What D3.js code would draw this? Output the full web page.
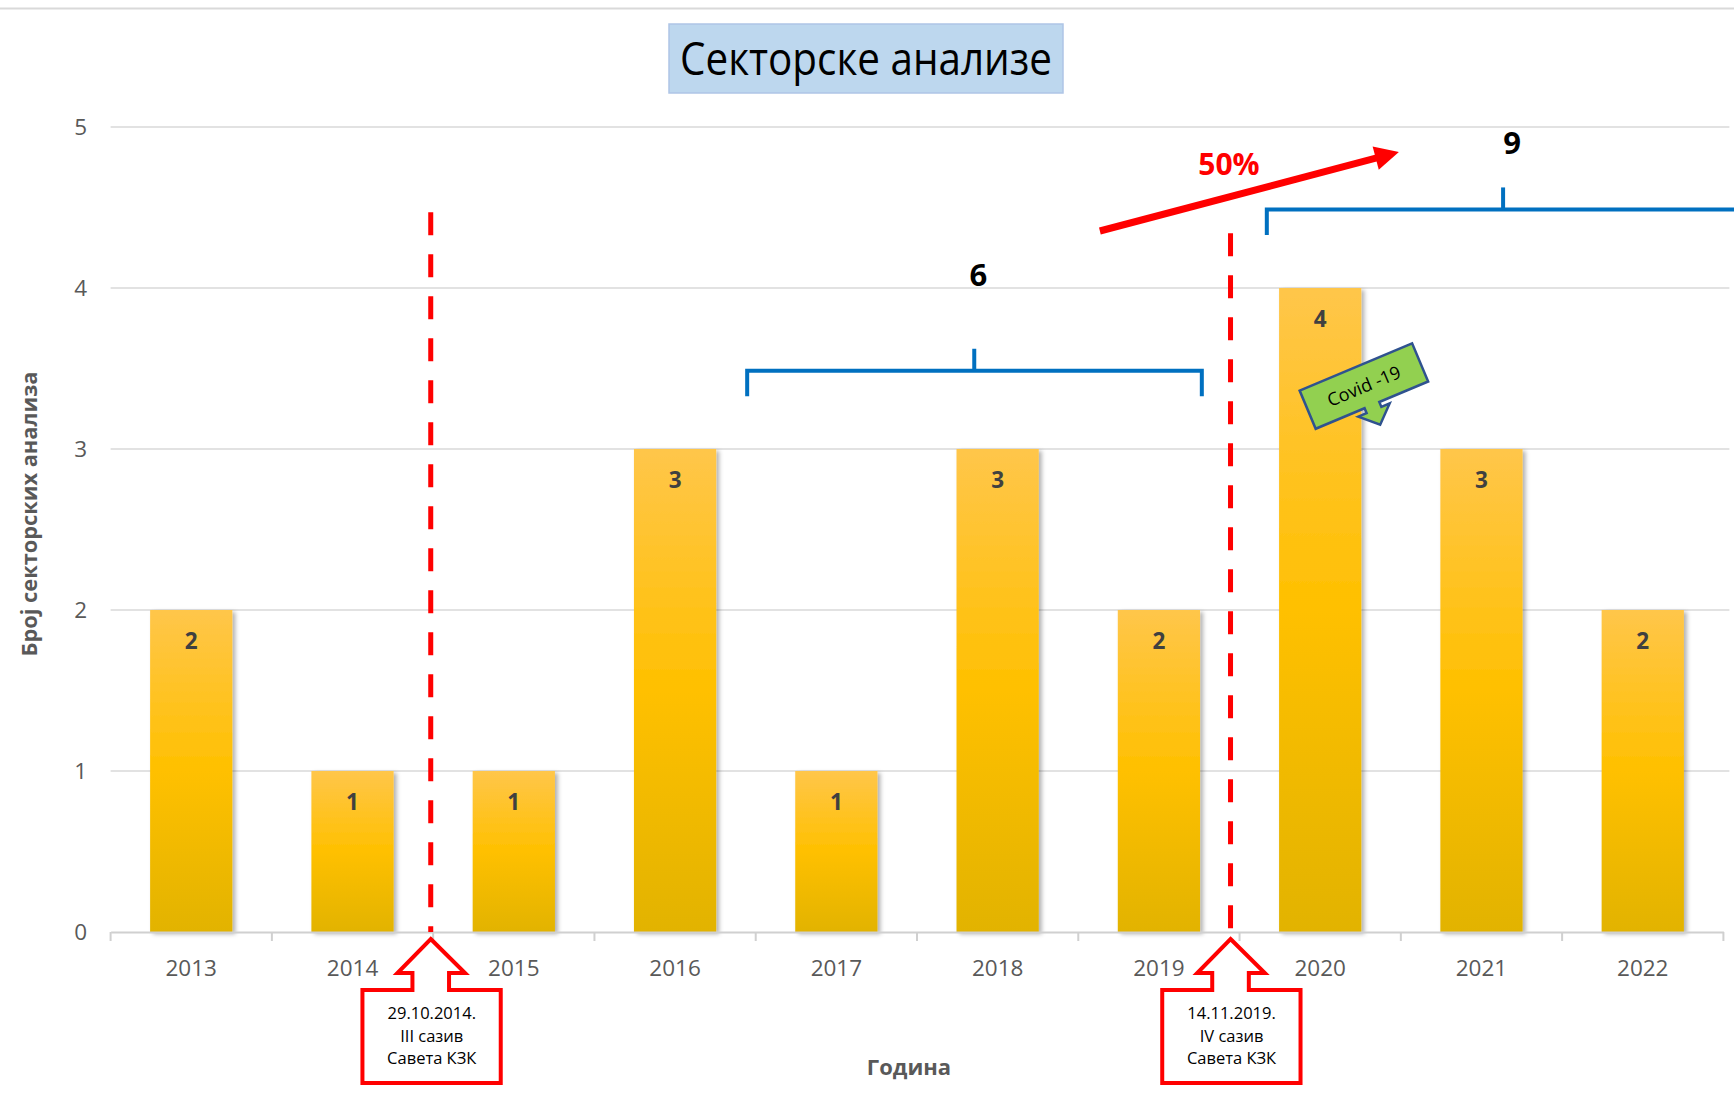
<!DOCTYPE html>
<html>
<head>
<meta charset="utf-8">
<script src="https://cdn.jsdelivr.net/npm/d3@7"></script>
<style>
  html, body { margin: 0; padding: 0; background: #fff; }
  svg { display: block; }
</style>
</head>
<body>
<svg id="chart" width="1734" height="1115"></svg>
<script>
// ---------------- data ----------------
const years = ["2013","2014","2015","2016","2017","2018","2019","2020","2021","2022"];
const values = [2, 1, 1, 3, 1, 3, 2, 4, 3, 2];
const yTicks = [0, 1, 2, 3, 4, 5];
const titleText = "Секторске анализе";
const yTitle = "Број секторских анализа";
const xTitle = "Година";
// events (position as category index, top of dashed line in data units)
const eventPos = [1.485, 6.444];
const eventTop = [4.47, 4.34];
const eventLines = [
  ["29.10.2014.", "III сазив", "Савета КЗК"],
  ["14.11.2019.", "IV сазив", "Савета КЗК"]
];
// period brackets (category index from, mid, to; level in data units) and totals
const bracketFrom = [3.447, 6.669];
const bracketMid  = [4.855, 8.134];
const bracketTo   = [6.266, 10.6];
const bracketLevel = [3.486, 4.488];
const bracketTotals = ["6", "9"];
const totalPos = [4.88, 8.19];
const totalLevel = [4.01, 4.835];
// growth arrow
const growthFrom = [5.634, 4.354];
const growthTo = [7.488, 4.845];
const growthLabel = "50%";
const growthLabelPos = [6.434, 4.70];
// covid note
const covidText = "Covid -19";
const covidPos = [7.271, 3.391];

// ---------------- layout ----------------
const W = 1734, H = 1115;
const x0 = 110.6, x1 = 1723.4;
const yBottom = 932, yTop = 127;
const svg = d3.select("#chart");
const font = "'Open Sans', 'Noto Sans', 'DejaVu Sans', sans-serif";

const x = d3.scaleBand().domain(years).range([x0, x1]).paddingInner(0.49).paddingOuter(0.245);
const xi = d3.scaleLinear().domain([-0.5, 9.5]).range([x0, x1]); // continuous category index
const y = d3.scaleLinear().domain([0, 5]).range([yBottom, yTop]);

svg.append("rect").attr("width", W).attr("height", H).attr("fill", "#fff");
// frame top line
svg.append("line").attr("x1", 0).attr("x2", W).attr("y1", 8.5).attr("y2", 8.5)
  .attr("stroke", "#D9D9D9").attr("stroke-width", 2);

const defs = svg.append("defs");
const grad = defs.append("linearGradient").attr("id", "barGrad")
  .attr("x1", 0).attr("y1", 0).attr("x2", 0).attr("y2", 1);
grad.append("stop").attr("offset", "0%").attr("stop-color", "#FFC64A");
grad.append("stop").attr("offset", "50%").attr("stop-color", "#FFC000");
grad.append("stop").attr("offset", "100%").attr("stop-color", "#E2B300");
const filt = defs.append("filter").attr("id", "shadow").attr("x", "-20%").attr("y", "-10%")
  .attr("width", "150%").attr("height", "130%");
filt.append("feDropShadow").attr("dx", 3).attr("dy", 2).attr("stdDeviation", 2.2)
  .attr("flood-color", "#000").attr("flood-opacity", 0.3);

// gridlines
svg.append("g").selectAll("line").data(yTicks.filter(d => d > 0)).join("line")
  .attr("x1", x0).attr("x2", x1 + 6)
  .attr("y1", d => y(d)).attr("y2", d => y(d))
  .attr("stroke", "#D9D9D9").attr("stroke-width", 1.6);

// y tick labels
svg.append("g").selectAll("text").data(yTicks).join("text")
  .attr("x", 87).attr("y", d => y(d) + 8)
  .attr("text-anchor", "end")
  .attr("font-family", font).attr("font-size", 22.5).attr("fill", "#595959")
  .text(d => d);

// bars
svg.append("g").selectAll("rect").data(values).join("rect")
  .attr("x", (d, i) => x(years[i]))
  .attr("y", d => y(d))
  .attr("width", x.bandwidth())
  .attr("height", d => yBottom - y(d))
  .attr("fill", "url(#barGrad)")
  .attr("filter", "url(#shadow)");

// data labels
svg.append("g").selectAll("text").data(values).join("text")
  .attr("x", (d, i) => x(years[i]) + x.bandwidth() / 2)
  .attr("y", d => y(d) + 39)
  .attr("text-anchor", "middle")
  .attr("font-family", font).attr("font-size", 22.5).attr("font-weight", "bold")
  .attr("fill", "#404040")
  .text(d => d);

// x axis
const xAxis = d3.axisBottom(x).tickSize(0).tickSizeOuter(0);
const gx = svg.append("g").attr("transform", `translate(0,${yBottom})`).call(xAxis);
gx.select(".domain").attr("stroke", "#D0D0D0").attr("stroke-width", 2);
gx.selectAll(".tick text").attr("font-family", font).attr("font-size", 22.5)
  .attr("fill", "#595959").attr("dy", 0).attr("y", 44);
// category boundary ticks
svg.append("g").selectAll("line").data(d3.range(years.length + 1)).join("line")
  .attr("x1", i => xi(i - 0.5)).attr("x2", i => xi(i - 0.5))
  .attr("y1", yBottom).attr("y2", yBottom + 9)
  .attr("stroke", "#D0D0D0").attr("stroke-width", 2);

// axis titles
svg.append("text")
  .attr("transform", `translate(37,514) rotate(-90)`)
  .attr("text-anchor", "middle")
  .attr("font-family", font).attr("font-size", 22).attr("font-weight", "bold")
  .attr("fill", "#595959")
  .attr("textLength", 285).attr("lengthAdjust", "spacingAndGlyphs")
  .text(yTitle);
svg.append("text")
  .attr("x", 909).attr("y", 1075)
  .attr("text-anchor", "middle")
  .attr("font-family", font).attr("font-size", 22).attr("font-weight", "bold")
  .attr("fill", "#595959")
  .text(xTitle);

// title
svg.append("rect").attr("x", 669).attr("y", 24).attr("width", 394).attr("height", 69)
  .attr("fill", "#BDD7EE").attr("stroke", "#AFC5E6").attr("stroke-width", 1.5);
svg.append("text").attr("x", 866).attr("y", 75)
  .attr("text-anchor", "middle")
  .attr("font-family", font).attr("font-size", 45).attr("fill", "#000")
  .attr("textLength", 372).attr("lengthAdjust", "spacingAndGlyphs")
  .text(titleText);

// event dashed lines
svg.append("g").selectAll("line").data(eventPos).join("line")
  .attr("x1", d => xi(d)).attr("x2", d => xi(d))
  .attr("y1", (d, i) => y(eventTop[i])).attr("y2", yBottom)
  .attr("stroke", "#FF0000").attr("stroke-width", 5)
  .attr("stroke-dasharray", "23 19");

// event callouts (up arrow callout shape)
const calloutPath = "M0,0 L34.3,34 L18.3,34 L18.3,51 L70,51 L70,144 L-68.3,144 L-68.3,51 L-18.3,51 L-18.3,34 L-33.3,34 Z";
const callouts = svg.append("g").selectAll("g").data(eventPos).join("g")
  .attr("transform", d => `translate(${xi(d)},${yBottom + 7})`);
callouts.append("path").attr("d", calloutPath)
  .attr("fill", "#fff").attr("stroke", "#FF0000").attr("stroke-width", 4)
  .attr("stroke-linejoin", "miter");
callouts.each(function(d, i) {
  const g = d3.select(this);
  eventLines[i].forEach((t, k) => {
    g.append("text").attr("x", 1).attr("y", 80 + k * 22.7)
      .attr("text-anchor", "middle")
      .attr("font-family", font).attr("font-size", 16.5).attr("fill", "#000")
      .text(t);
  });
});

// brackets
const bracketColor = "#0070C0";
bracketFrom.forEach((f, i) => {
  const yl = y(bracketLevel[i]);
  const g = svg.append("g").attr("fill", "none").attr("stroke", bracketColor).attr("stroke-width", 4);
  g.append("path")
    .attr("d", `M${xi(f)},${yl + 25.5} L${xi(f)},${yl} L${xi(bracketTo[i])},${yl} L${xi(bracketTo[i])},${yl + 25.5}`);
  g.append("line").attr("x1", xi(bracketMid[i])).attr("x2", xi(bracketMid[i]))
    .attr("y1", yl).attr("y2", yl - 22);
  svg.append("text").attr("x", xi(totalPos[i])).attr("y", y(totalLevel[i]))
    .attr("text-anchor", "middle")
    .attr("font-family", font).attr("font-size", 31).attr("font-weight", "bold")
    .attr("fill", "#000").text(bracketTotals[i]);
});

// growth arrow
const ax1 = xi(growthFrom[0]), ay1 = y(growthFrom[1]);
const ax2 = xi(growthTo[0]), ay2 = y(growthTo[1]);
const ang = Math.atan2(ay2 - ay1, ax2 - ax1);
const len = Math.hypot(ax2 - ax1, ay2 - ay1);
const ga = svg.append("g").attr("transform", `translate(${ax1},${ay1}) rotate(${ang * 180 / Math.PI})`);
ga.append("line").attr("x1", 0).attr("y1", 0).attr("x2", len - 20).attr("y2", 0)
  .attr("stroke", "#FF0000").attr("stroke-width", 7);
ga.append("path").attr("d", `M${len},0 L${len - 24},-12 L${len - 24},12 Z`).attr("fill", "#FF0000");
svg.append("text").attr("x", xi(growthLabelPos[0])).attr("y", y(growthLabelPos[1]))
  .attr("text-anchor", "middle")
  .attr("font-family", font).attr("font-size", 30).attr("font-weight", "bold")
  .attr("fill", "#FF0000").text(growthLabel);

// covid callout (rotated down-arrow callout)
const cg = svg.append("g")
  .attr("transform", `translate(${xi(covidPos[0])},${y(covidPos[1])}) rotate(-22.8)`);
cg.append("path")
  .attr("d", "M-61,-20.7 L61,-20.7 L61,20.7 L8,20.7 L8,26 L17,26 L0,42 L-17,26 L-8,26 L-8,20.7 L-61,20.7 Z")
  .attr("fill", "#92D050").attr("stroke", "#2F528F").attr("stroke-width", 2.5)
  .attr("stroke-linejoin", "miter");
cg.append("text").attr("x", 0).attr("y", 6.5)
  .attr("text-anchor", "middle")
  .attr("font-family", font).attr("font-size", 18).attr("fill", "#000")
  .text(covidText);
</script>
</body>
</html>
